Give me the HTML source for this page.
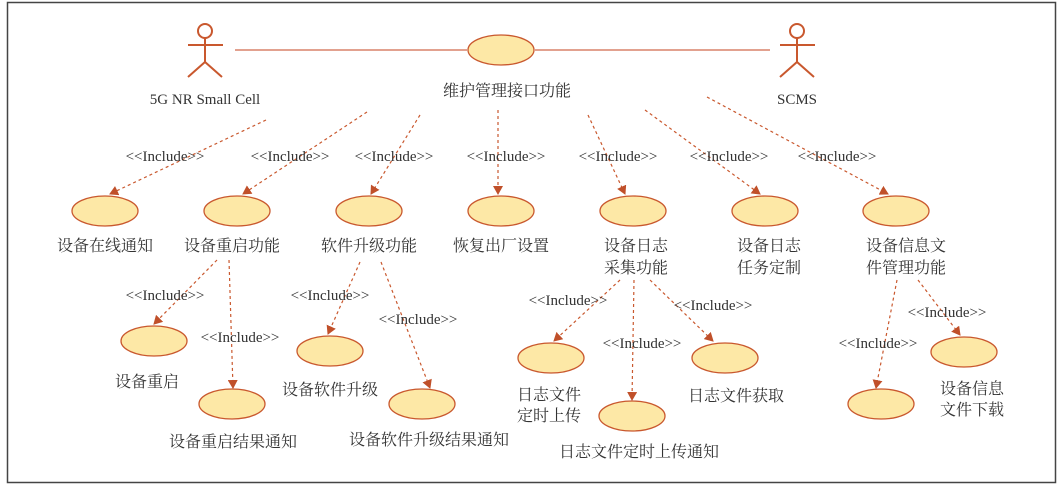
<!DOCTYPE html>
<html><head><meta charset="utf-8"><style>
body{margin:0;background:#fff}
svg text{font-family:"Liberation Serif","Noto Serif CJK SC",serif;fill:#333;font-size:16px;text-anchor:middle}
.i{font-size:15px}
</style></head><body>
<svg width="1063" height="489" viewBox="0 0 1063 489">
<defs><marker id="a" markerWidth="10" markerHeight="10" refX="8" refY="5" orient="auto" markerUnits="userSpaceOnUse"><path d="M0,0 L9,5 L0,10 z" fill="#c0502a"/></marker></defs>
<rect x="7.5" y="2.5" width="1048" height="480" fill="none" stroke="#444" stroke-width="1.5"/>
<g stroke="#c9582e" stroke-width="2" fill="none">
<circle cx="205" cy="31" r="7"/><line x1="205" y1="38" x2="205" y2="62"/><line x1="188" y1="45" x2="223" y2="45"/><path d="M188,77 L205,62 L222,77"/>
<circle cx="797" cy="31" r="7"/><line x1="797" y1="38" x2="797" y2="62"/><line x1="780" y1="45" x2="815" y2="45"/><path d="M780,77 L797,62 L814,77"/>
</g>
<g stroke="#d9826a" stroke-width="1.5"><line x1="235" y1="50" x2="467" y2="50"/><line x1="535" y1="50" x2="770" y2="50"/></g>
<g fill="#fde8a6" stroke="#c9582e" stroke-width="1.3">
<ellipse cx="501" cy="50" rx="33" ry="15"/>
<ellipse cx="105" cy="211" rx="33" ry="15"/><ellipse cx="237" cy="211" rx="33" ry="15"/><ellipse cx="369" cy="211" rx="33" ry="15"/><ellipse cx="501" cy="211" rx="33" ry="15"/><ellipse cx="633" cy="211" rx="33" ry="15"/><ellipse cx="765" cy="211" rx="33" ry="15"/><ellipse cx="896" cy="211" rx="33" ry="15"/>
<ellipse cx="154" cy="341" rx="33" ry="15"/><ellipse cx="232" cy="404" rx="33" ry="15"/><ellipse cx="330" cy="351" rx="33" ry="15"/><ellipse cx="422" cy="404" rx="33" ry="15"/><ellipse cx="551" cy="358" rx="33" ry="15"/><ellipse cx="632" cy="416" rx="33" ry="15"/><ellipse cx="725" cy="358" rx="33" ry="15"/><ellipse cx="881" cy="404" rx="33" ry="15"/><ellipse cx="964" cy="352" rx="33" ry="15"/>
</g>
<g stroke="#c9582e" stroke-width="1.2" stroke-dasharray="3,3" fill="none" marker-end="url(#a)">
<line x1="266" y1="120" x2="110" y2="194"/><line x1="367" y1="112" x2="243" y2="194"/><line x1="420" y1="115" x2="371" y2="194"/><line x1="498" y1="110" x2="498" y2="194"/><line x1="588" y1="115" x2="625" y2="194"/><line x1="645" y1="110" x2="760" y2="194"/><line x1="707" y1="97" x2="888" y2="194"/>
<line x1="217" y1="260" x2="154" y2="324"/><line x1="229" y1="260" x2="233" y2="388"/><line x1="360" y1="262" x2="328" y2="334"/><line x1="381" y1="262" x2="430" y2="388"/><line x1="620" y1="280" x2="554" y2="341"/><line x1="634" y1="280" x2="632" y2="400"/><line x1="650" y1="280" x2="713" y2="341"/><line x1="897" y1="280" x2="876" y2="388"/><line x1="918" y1="280" x2="960" y2="335"/>
</g>
<text x="205" y="104" style="font-size:15px">5G NR Small Cell</text>
<text x="797" y="104" style="font-size:15px">SCMS</text>
<text x="507" y="96">维护管理接口功能</text>
<text x="165" y="161" class="i">&lt;&lt;Include&gt;&gt;</text><text x="290" y="161" class="i">&lt;&lt;Include&gt;&gt;</text><text x="394" y="161" class="i">&lt;&lt;Include&gt;&gt;</text><text x="506" y="161" class="i">&lt;&lt;Include&gt;&gt;</text><text x="618" y="161" class="i">&lt;&lt;Include&gt;&gt;</text><text x="729" y="161" class="i">&lt;&lt;Include&gt;&gt;</text><text x="837" y="161" class="i">&lt;&lt;Include&gt;&gt;</text>
<text x="165" y="300" class="i">&lt;&lt;Include&gt;&gt;</text><text x="240" y="342" class="i">&lt;&lt;Include&gt;&gt;</text><text x="330" y="300" class="i">&lt;&lt;Include&gt;&gt;</text><text x="418" y="324" class="i">&lt;&lt;Include&gt;&gt;</text><text x="568" y="305" class="i">&lt;&lt;Include&gt;&gt;</text><text x="642" y="348" class="i">&lt;&lt;Include&gt;&gt;</text><text x="713" y="310" class="i">&lt;&lt;Include&gt;&gt;</text><text x="878" y="348" class="i">&lt;&lt;Include&gt;&gt;</text><text x="947" y="317" class="i">&lt;&lt;Include&gt;&gt;</text>
<text x="105" y="251">设备在线通知</text><text x="232" y="251">设备重启功能</text><text x="369" y="251">软件升级功能</text><text x="501" y="251">恢复出厂设置</text>
<text x="636" y="251">设备日志</text><text x="636" y="273">采集功能</text>
<text x="769" y="251">设备日志</text><text x="769" y="273">任务定制</text>
<text x="906" y="251">设备信息文</text><text x="906" y="273">件管理功能</text>
<text x="147" y="387">设备重启</text><text x="233" y="447">设备重启结果通知</text><text x="330" y="395">设备软件升级</text><text x="429" y="445">设备软件升级结果通知</text>
<text x="549" y="400">日志文件</text><text x="549" y="421">定时上传</text><text x="639" y="457">日志文件定时上传通知</text><text x="736" y="401">日志文件获取</text>
<text x="972" y="394">设备信息</text><text x="972" y="415">文件下载</text>
</svg>
</body></html>
